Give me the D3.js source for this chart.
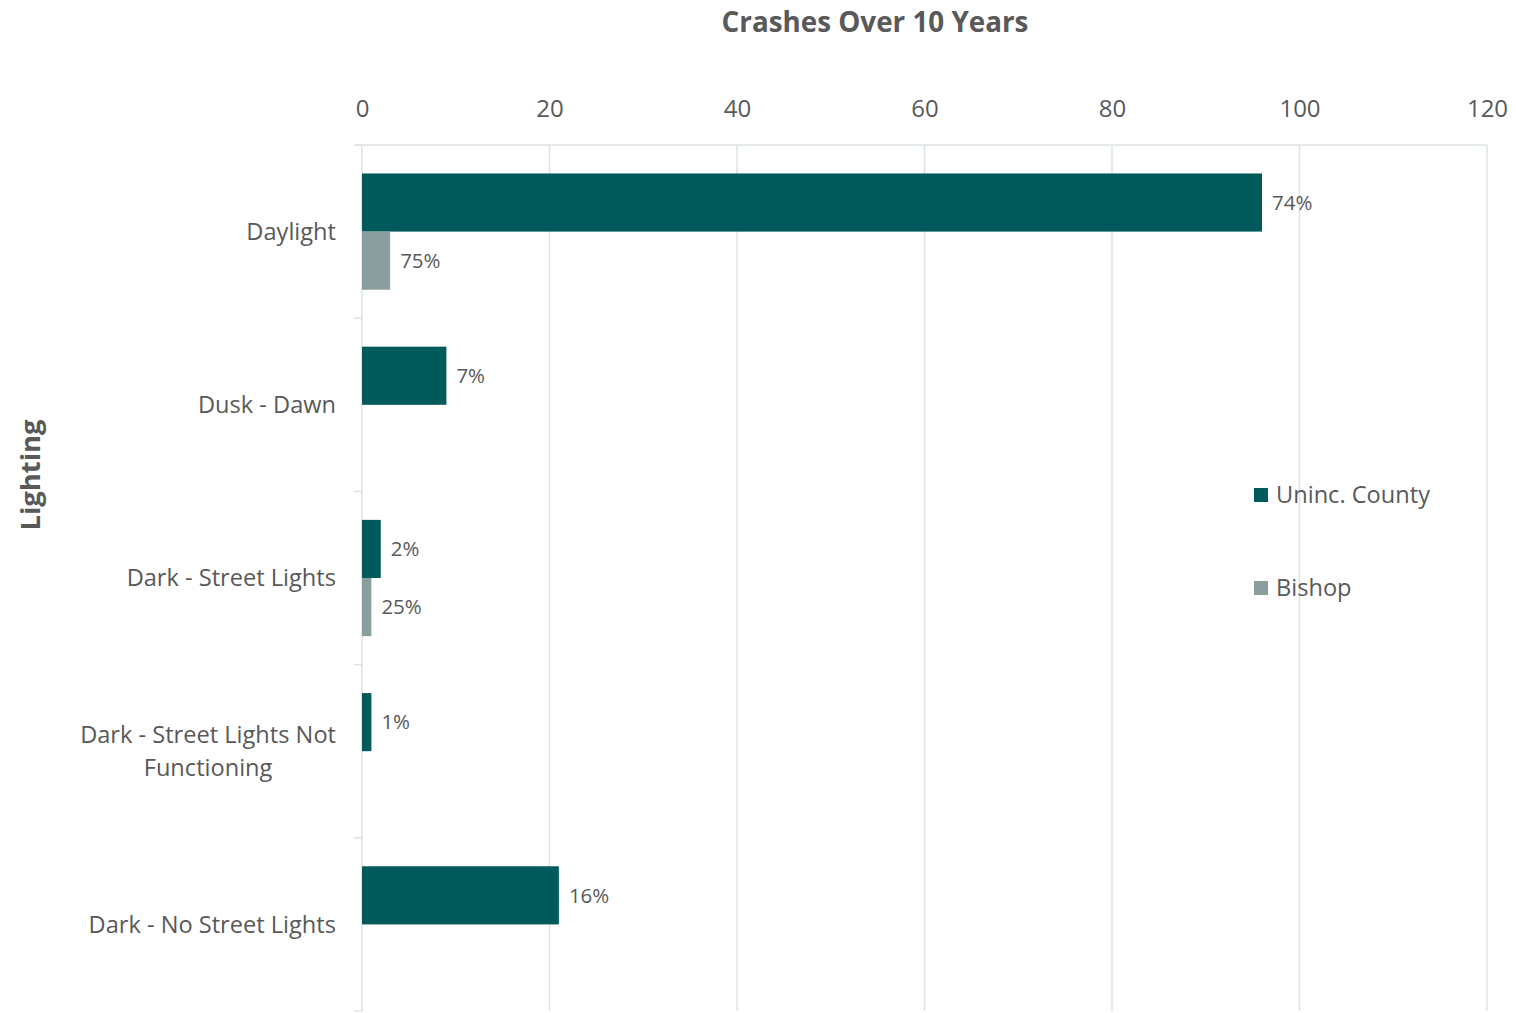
<!DOCTYPE html>
<html>
<head>
<meta charset="utf-8">
<script src="https://cdn.jsdelivr.net/npm/d3@7/dist/d3.min.js"></script>
<style>
  html, body { margin: 0; padding: 0; background: #ffffff; }
  svg { display: block; }
  text { font-family: "Open Sans", "Lato", sans-serif; fill: #595959; }
</style>
</head>
<body>
<svg id="chart" width="1516" height="1013"></svg>
<script>
// Crash counts by lighting condition
const categories = ["Daylight", "Dusk - Dawn", "Dark - Street Lights", "Dark - Street Lights Not Functioning", "Dark - No Street Lights"];
const categoryLines = [["Daylight"], ["Dusk - Dawn"], ["Dark - Street Lights"], ["Dark - Street Lights Not", "Functioning"], ["Dark - No Street Lights"]];
const seriesNames = ["Uninc. County", "Bishop"];
const unincCounty = [96, 9, 2, 1, 21];
const bishop = [3, 0, 1, 0, 0];
const unincLabels = ["74%", "7%", "2%", "1%", "16%"];
const bishopLabels = ["75%", "", "25%", "", ""];
const xTicks = [0, 20, 40, 60, 80, 100, 120];
const colors = ["#00595a", "#899e9d"];

const svg = d3.select("#chart");
const plotLeft = 362, plotRight = 1487, plotTop = 145, plotBottom = 1011;
const labelRight = 336;

const x = d3.scaleLinear().domain([0, 120]).range([plotLeft, plotRight]);
const y = d3.scaleBand().domain(categories).range([plotTop, plotBottom]).padding(0);
const ySub = d3.scaleBand().domain(seriesNames).range([0, y.bandwidth()]).paddingOuter(0.49).paddingInner(0);

// Vertical gridlines
svg.append("g")
  .selectAll("line")
  .data(xTicks)
  .join("line")
  .attr("x1", d => x(d)).attr("x2", d => x(d))
  .attr("y1", plotTop).attr("y2", plotBottom)
  .attr("stroke", "#dde3e3").attr("stroke-width", 1.5);

// Top frame line
svg.append("line")
  .attr("x1", plotLeft - 8).attr("x2", plotRight)
  .attr("y1", plotTop).attr("y2", plotTop)
  .attr("stroke", "#dde3e3").attr("stroke-width", 1.5);

// Category axis ticks at band boundaries
const boundaries = categories.map(c => y(c)).concat([plotBottom]);
svg.append("g")
  .selectAll("line")
  .data(boundaries)
  .join("line")
  .attr("x1", plotLeft - 8).attr("x2", plotLeft)
  .attr("y1", d => d).attr("y2", d => d)
  .attr("stroke", "#dde3e3").attr("stroke-width", 1.5);

// Top value axis labels
const xAxis = d3.axisTop(x).tickValues(xTicks).tickSize(0).tickPadding(0);
const gx = svg.append("g").attr("transform", "translate(0, 117)").call(xAxis);
gx.select(".domain").remove();
gx.selectAll("text")
  .style("font-size", "24px")
  .style("font-family", "'Open Sans', sans-serif")
  .attr("fill", "#595959");

// Bars with percentage labels
const rows = categories.map((c, i) => ({ c, vals: [unincCounty[i], bishop[i]], labs: [unincLabels[i], bishopLabels[i]] }));

const groups = svg.append("g").selectAll("g")
  .data(rows)
  .join("g")
  .attr("transform", d => `translate(0, ${y(d.c)})`);

groups.each(function(d) {
  const g = d3.select(this);
  seriesNames.forEach((s, k) => {
    const v = d.vals[k];
    if (!v) return;
    g.append("rect")
      .attr("x", x(0))
      .attr("y", ySub(s))
      .attr("width", x(v) - x(0))
      .attr("height", ySub.bandwidth())
      .attr("fill", colors[k]);
    g.append("text")
      .attr("x", x(v) + 10)
      .attr("y", ySub(s) + ySub.bandwidth() / 2)
      .attr("dy", "0.35em")
      .style("font-size", "20.5px")
      .text(d.labs[k]);
  });
});

// Category labels: wrapped lines are centred within a right-aligned block
svg.append("g").selectAll("text")
  .data(categories)
  .join("text")
  .attr("text-anchor", "middle")
  .style("font-size", "23.6px")
  .each(function(d, i) {
    const lines = categoryLines[i];
    const t = d3.select(this);
    const offset = -(lines.length - 1) / 2 * 33;
    const spans = lines.map((ln, j) =>
      t.append("tspan")
        .attr("y", y(d) + y.bandwidth() / 2 + offset + j * 33)
        .attr("dy", "0.35em")
        .text(ln));
    const maxW = d3.max(spans, sp => sp.node().getComputedTextLength());
    spans.forEach(sp => sp.attr("x", labelRight - maxW / 2));
  });

// Chart title
svg.append("text")
  .attr("x", 875).attr("y", 32)
  .attr("text-anchor", "middle")
  .style("font-size", "27.8px").style("font-weight", "bold")
  .text("Crashes Over 10 Years");

// Axis title
svg.append("text")
  .attr("transform", "translate(40, 475) rotate(-90)")
  .attr("text-anchor", "middle")
  .style("font-size", "27.4px").style("font-weight", "bold")
  .text("Lighting");

// Legend
const legend = svg.append("g").selectAll("g")
  .data(seriesNames)
  .join("g")
  .attr("transform", (d, i) => `translate(1254, ${495 + i * 93})`);
legend.append("rect")
  .attr("x", 0).attr("y", -7).attr("width", 14).attr("height", 14)
  .attr("fill", (d, i) => colors[i]);
legend.append("text")
  .attr("x", 22).attr("y", 0).attr("dy", "0.35em")
  .style("font-size", "23.6px")
  .text(d => d);
</script>
</body>
</html>
